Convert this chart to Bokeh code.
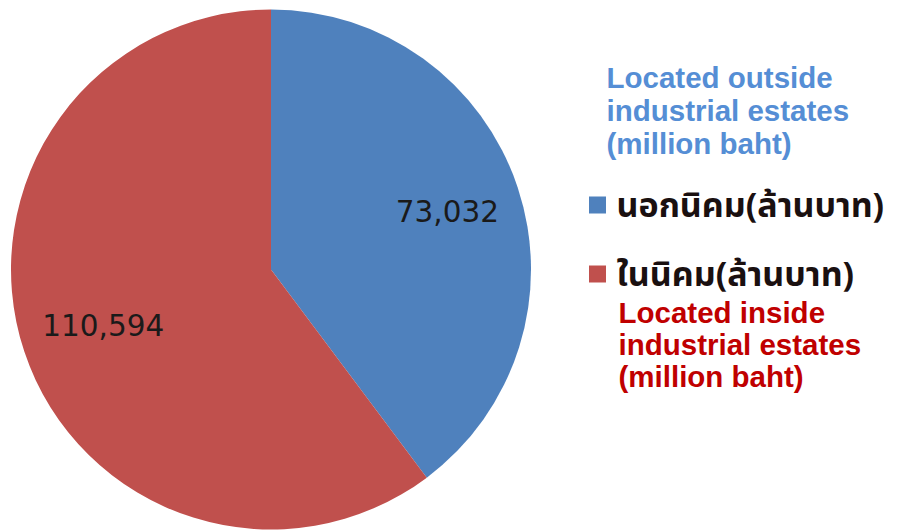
import numpy as np
from bokeh.plotting import figure
from bokeh.models import Range1d, ColumnDataSource
from bokeh.core.properties import value
from bokeh.embed import file_html
from bokeh.resources import INLINE

# ---- data ----
categories = ["นอกนิคม(ล้านบาท)", "ในนิคม(ล้านบาท)"]
values = [73032, 110594]
value_labels = ["73,032", "110,594"]
colors = ["#4F81BD", "#C0504D"]
note_outside = ["Located outside", "industrial estates", "(million baht)"]
note_inside = ["Located inside", "industrial estates", "(million baht)"]

W, H = 905, 531
p = figure(width=W, height=H, output_backend="svg", toolbar_location=None,
           x_range=Range1d(0, W), y_range=Range1d(0, H), min_border=0)
p.axis.visible = False
p.grid.visible = False
p.outline_line_color = None
p.background_fill_color = "white"
p.border_fill_color = "white"

def sy(y):  # screen y -> data y
    return H - y

def sx(x):
    return x

cx, cy, r = sx(270.5), sy(269), 260.0

vals = np.array(values, dtype=float)
frac = vals / vals.sum()
ends_cum = np.cumsum(frac) * 2 * np.pi
starts_cum = np.concatenate([[0], ends_cum[:-1]])
start_angle = np.pi / 2 - starts_cum
end_angle = np.pi / 2 - ends_cum
mid = (start_angle + end_angle) / 2

src = ColumnDataSource(dict(start=start_angle, end=end_angle, color=colors))
p.wedge(x=cx, y=cy, radius=r, start_angle="start", end_angle="end",
        direction="clock", fill_color="color", line_color=None, source=src)

lab_r = np.array([0.715, 0.68]) * r
lsrc = ColumnDataSource(dict(x=cx + lab_r * np.cos(mid), y=cy + lab_r * np.sin(mid), t=value_labels))
p.text(x="x", y="y", text="t", source=lsrc, text_align="center", text_baseline="middle",
       text_font=value("DejaVu Sans"), text_font_size="29.5px", text_color="#1a1a1a")

# legend
leg_y = [sy(204.5), sy(273.5)]
p.rect(x=[sx(597)] * 2, y=leg_y, width=17, height=17, fill_color=colors, line_color=None)
p.text(x=[sx(616)] * 2, y=[sy(206), sy(275)], text=categories, text_align="left",
       text_baseline="alphabetic", text_font=value("Tahoma, 'Noto Sans Thai', 'Noto Sans', sans-serif"),
       text_font_style="bold", text_font_size="34px", text_color="#1a1010")

# annotations
p.text(x=[sx(606)] * 3, y=[sy(77), sy(110), sy(143)], text=note_outside, text_align="left",
       text_baseline="alphabetic", text_font=value("Liberation Sans"), text_font_style="bold",
       text_font_size="29.5px", text_color="#558ED5")
p.text(x=[sx(618)] * 3, y=[sy(312), sy(344), sy(376)], text=note_inside, text_align="left",
       text_baseline="alphabetic", text_font=value("Liberation Sans"), text_font_style="bold",
       text_font_size="29.5px", text_color="#C00000")

open("out.html", "w").write(file_html(p, INLINE))
